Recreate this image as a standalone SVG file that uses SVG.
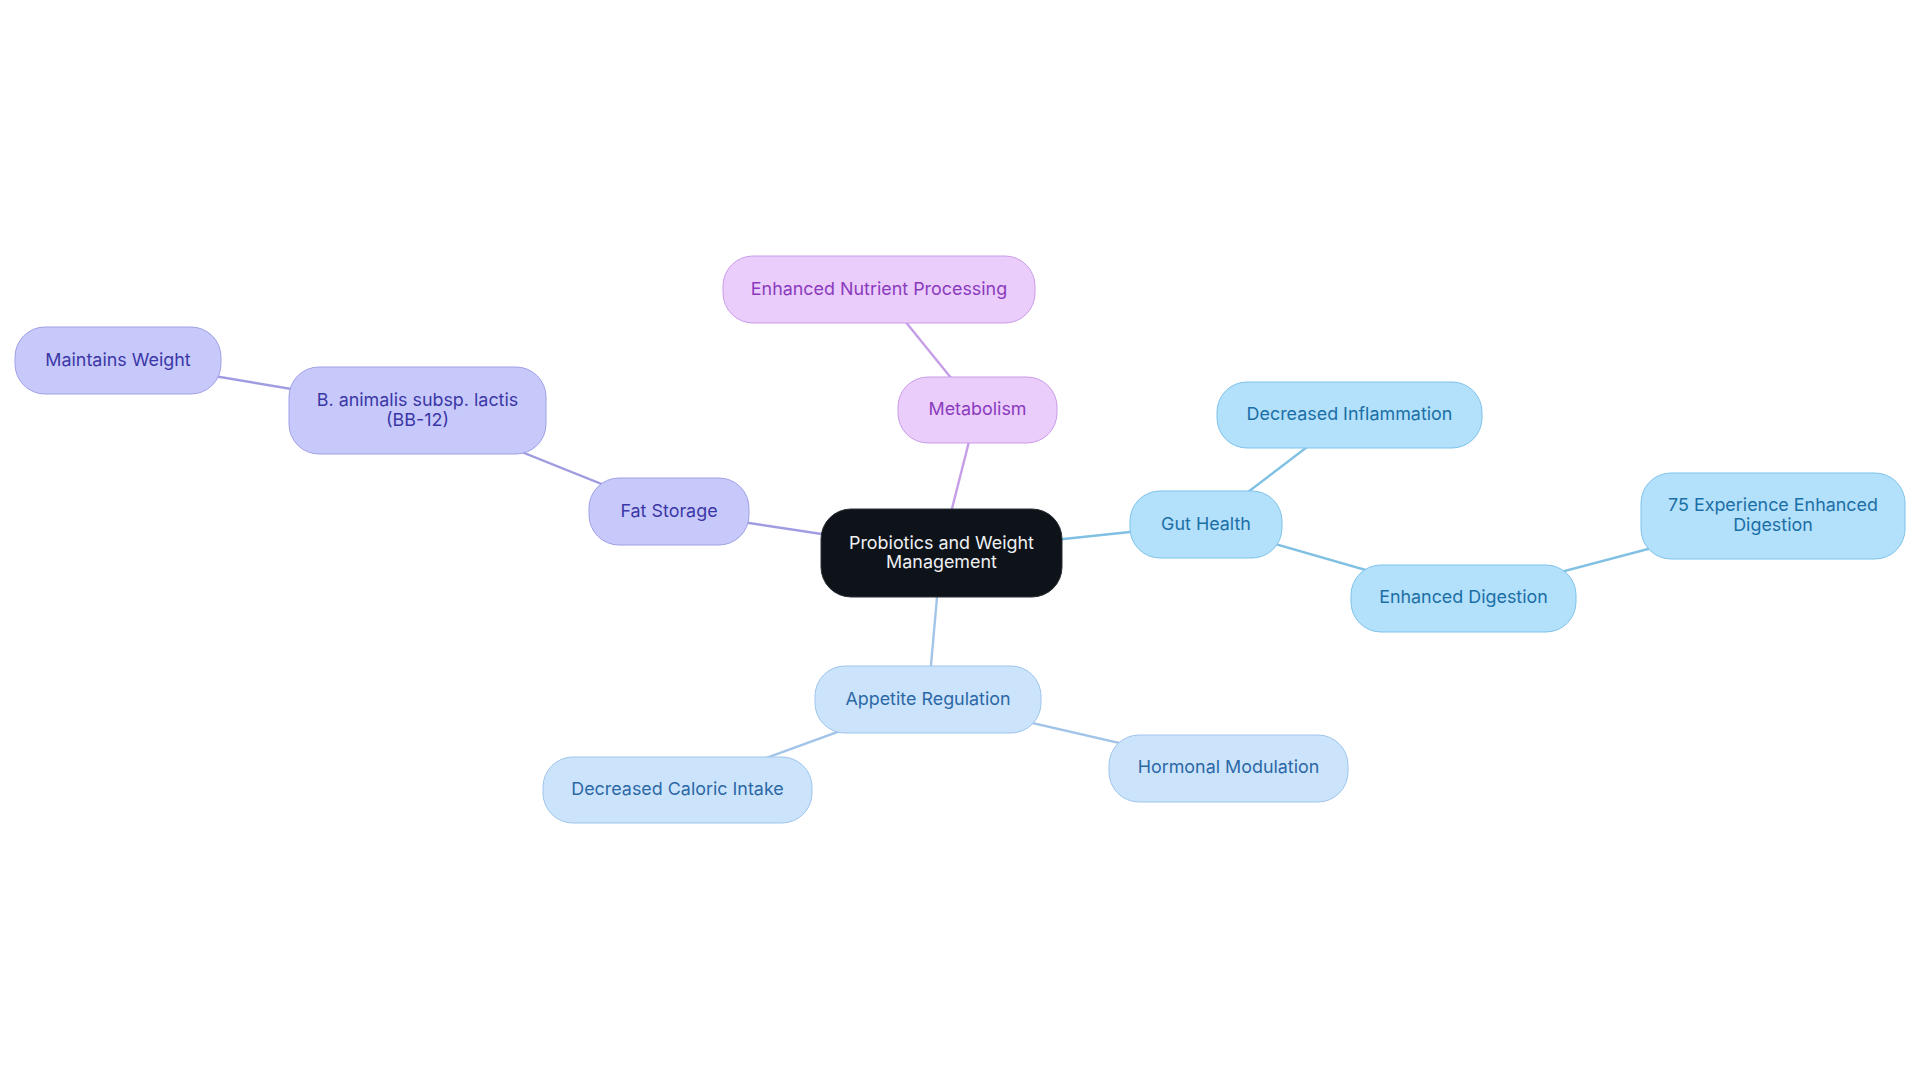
<svg xmlns="http://www.w3.org/2000/svg" width="1920" height="1083" viewBox="0 0 1920 1083">
<style>
text{font-family:Inter,"Noto Sans","Liberation Sans",sans-serif;font-size:17.9px;text-anchor:middle}
.root rect{fill:#0e131a;stroke:#2a2f36;stroke-width:1}
.root text{fill:#eef0f3}
.ind rect{fill:#c8c9fb;stroke:#9fa0e6;stroke-width:1}
.ind text{fill:#3b37a6}
.pur rect{fill:#ebcdfc;stroke:#c99ce8;stroke-width:1}
.pur text{fill:#8a3bbd}
.sky rect{fill:#b3e0fb;stroke:#7ec3ea;stroke-width:1}
.sky text{fill:#1b6fa6}
.pal rect{fill:#cce4fb;stroke:#9ec5ec;stroke-width:1}
.pal text{fill:#2c68a6}
#connectors line{stroke-width:2.4;fill:none}
.ci{stroke:#a09ce2}
.cp{stroke:#c69ee8}
.cs{stroke:#7fc0e3}
.ca{stroke:#a2c4e8}
</style>
<rect width="1920" height="1083" fill="#ffffff"/>
<g id="connectors">
<line class="ci" x1="941" y1="552" x2="669" y2="511"/>
<line class="ci" x1="669" y1="511" x2="417" y2="410"/>
<line class="ci" x1="417" y1="410" x2="118" y2="360"/>
<line class="cp" x1="941" y1="552" x2="977" y2="410"/>
<line class="cp" x1="977" y1="410" x2="879" y2="289"/>
<line class="cs" x1="941" y1="552" x2="1206" y2="524"/>
<line class="cs" x1="1206" y1="524" x2="1349" y2="415"/>
<line class="cs" x1="1206" y1="524" x2="1463" y2="598"/>
<line class="cs" x1="1463" y1="598" x2="1773" y2="516"/>
<line class="ca" x1="941" y1="552" x2="928" y2="699"/>
<line class="ca" x1="928" y1="699" x2="678" y2="790"/>
<line class="ca" x1="928" y1="699" x2="1228" y2="768"/>
</g>
<g id="root" class="root">
<rect x="821" y="509" width="241" height="88" rx="30"/>
<text x="941.5" y="549">Probiotics and Weight</text>
<text x="941.5" y="568">Management</text>
</g>
<g id="fat-storage" class="ind">
<rect x="589" y="478" width="160" height="67" rx="30"/>
<text x="669" y="517">Fat Storage</text>
</g>
<g id="bb12" class="ind">
<rect x="289" y="367" width="257" height="87" rx="30"/>
<text x="417.5" y="406">B. animalis subsp. lactis</text>
<text x="417.5" y="426">(BB-12)</text>
</g>
<g id="maintains-weight" class="ind">
<rect x="15" y="327" width="206" height="67" rx="30"/>
<text x="118" y="366">Maintains Weight</text>
</g>
<g id="metabolism" class="pur">
<rect x="898" y="377" width="159" height="66" rx="30"/>
<text x="977.5" y="415">Metabolism</text>
</g>
<g id="nutrient" class="pur">
<rect x="723" y="256" width="312" height="67" rx="30"/>
<text x="879" y="295">Enhanced Nutrient Processing</text>
</g>
<g id="gut-health" class="sky">
<rect x="1130" y="491" width="152" height="67" rx="30"/>
<text x="1206" y="530">Gut Health</text>
</g>
<g id="inflammation" class="sky">
<rect x="1217" y="382" width="265" height="66" rx="30"/>
<text x="1349.5" y="420">Decreased Inflammation</text>
</g>
<g id="enhanced-digestion" class="sky">
<rect x="1351" y="565" width="225" height="67" rx="30"/>
<text x="1463.5" y="603">Enhanced Digestion</text>
</g>
<g id="experience" class="sky">
<rect x="1641" y="473" width="264" height="86" rx="30"/>
<text x="1773" y="511">75 Experience Enhanced</text>
<text x="1773" y="531">Digestion</text>
</g>
<g id="appetite" class="pal">
<rect x="815" y="666" width="226" height="67" rx="30"/>
<text x="928" y="705">Appetite Regulation</text>
</g>
<g id="caloric" class="pal">
<rect x="543" y="757" width="269" height="66" rx="30"/>
<text x="677.5" y="795">Decreased Caloric Intake</text>
</g>
<g id="hormonal" class="pal">
<rect x="1109" y="735" width="239" height="67" rx="30"/>
<text x="1228.5" y="773">Hormonal Modulation</text>
</g>
</svg>
